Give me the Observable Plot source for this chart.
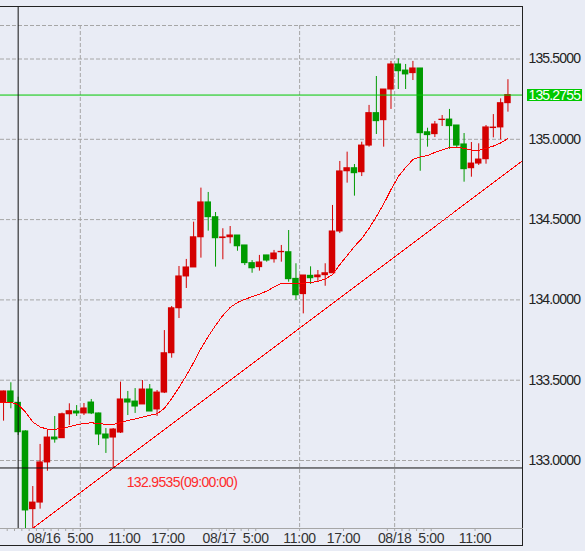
<!DOCTYPE html>
<html>
<head>
<meta charset="utf-8">
<script src="https://cdn.jsdelivr.net/npm/d3@7"></script>
<script src="https://cdn.jsdelivr.net/npm/@observablehq/plot@0.6"></script>
<style>
html, body { margin: 0; padding: 0; background: #e9ecf5; }
#chart svg { display: block; }
g[aria-label="y-axis tick label"] text { letter-spacing: -0.85px; }
g[aria-label="x-axis tick label"] text { letter-spacing: -0.3px; }
g[aria-label="text"] text { letter-spacing: -0.65px; }
</style>
</head>
<body>
<div id="chart"></div>
<script>
// hourly candles, hour index relative to 08/16 00:00
const hours = [-6,-5,-4,-3,-2,-1,0,1,2,3,4,5,6,7,8,9,10,11,12,13,14,15,16,17,18,19,20,21,22,23,24,25,26,27,28,29,30,31,32,33,34,35,36,37,38,39,40,41,42,43,44,45,46,47,48,49,50,51,52,53,54,55,56,57,58,59,60,61,62,63];
const opens = [133.363,133.430,133.359,133.181,132.697,132.738,132.988,133.143,133.139,133.288,133.305,133.293,133.361,133.293,133.162,133.143,133.174,133.380,133.367,133.349,133.442,133.318,133.423,133.668,133.948,134.146,134.202,134.390,134.607,134.515,134.385,134.390,134.401,134.339,134.229,134.204,134.277,134.253,134.297,134.297,134.131,134.036,134.150,134.141,134.154,134.166,134.426,134.801,134.820,134.795,134.961,135.163,135.119,135.310,135.466,135.428,135.412,135.441,135.044,135.032,135.120,135.123,135.086,134.968,134.820,134.849,134.876,135.070,135.074,135.225];
const highs = [133.432,133.484,133.394,133.185,132.838,133.100,133.187,133.274,133.295,133.353,133.342,133.355,133.380,133.295,133.199,133.199,133.488,133.430,133.448,133.498,133.473,133.436,133.809,133.959,134.208,134.252,134.484,134.696,134.669,134.544,134.443,134.457,134.401,134.339,134.245,134.277,134.277,134.308,134.339,134.432,134.225,134.152,134.206,134.183,134.225,134.588,134.862,134.920,134.843,134.982,135.211,135.391,135.310,135.485,135.501,135.466,135.485,135.441,135.069,135.111,135.148,135.186,135.086,135.036,134.980,134.972,135.086,135.154,135.252,135.371];
const lows = [133.245,133.322,133.156,132.55,132.55,132.697,132.933,133.108,133.139,133.218,133.274,133.280,133.286,133.093,133.044,132.9535,133.168,133.280,133.293,133.349,133.305,133.274,133.417,133.637,133.884,134.071,134.202,134.260,134.428,134.204,134.250,134.349,134.303,134.214,134.166,134.179,134.235,134.229,134.235,134.110,133.996,133.913,134.096,134.115,134.085,134.166,134.413,134.727,134.646,134.768,134.951,135.030,134.951,135.186,135.310,135.310,135.366,134.801,134.951,135.011,135.080,134.937,134.949,134.733,134.764,134.837,134.845,135.009,134.997,135.169];
const closes = [133.430,133.363,133.176,132.689,132.738,132.988,133.143,133.131,133.288,133.307,133.293,133.324,133.293,133.162,133.137,133.193,133.380,133.361,133.336,133.442,133.305,133.423,133.668,133.948,134.146,134.202,134.390,134.607,134.515,134.384,134.389,134.401,134.334,134.229,134.197,134.233,134.245,134.289,134.299,134.129,134.029,134.152,134.135,134.152,134.166,134.426,134.800,134.820,134.789,134.961,135.163,135.113,135.310,135.466,135.424,135.404,135.441,135.038,135.026,135.092,135.122,135.082,134.961,134.814,134.849,134.874,135.074,135.073,135.225,135.2755];

// moving average (red curve)
const maHours = [-7,-6,-5,-4,-3,-2,-1,0,1,2,3,4,5,6,7,8,9,10,11,12,13,14,15,16,17,18,19,20,21,22,23,24,25,26,27,28,29,30,31,32,33,34,35,36,37,38,39,40,41,42,43,44,45,46,47,48,49,50,51,52,53,54,55,56,57,58,59,60,61,62,63];
const maValues = [133.364,133.362,133.361,133.349,133.301,133.240,133.209,133.195,133.194,133.200,133.210,133.222,133.230,133.235,133.230,133.225,133.224,133.235,133.249,133.258,133.270,133.282,133.291,133.324,133.386,133.455,133.529,133.610,133.697,133.772,133.841,133.903,133.953,133.984,134.003,134.020,134.036,134.055,134.080,134.104,134.104,134.104,134.104,134.108,134.115,134.130,134.158,134.220,134.276,134.333,134.382,134.445,134.519,134.597,134.687,134.768,134.824,134.874,134.890,134.899,134.918,134.933,134.949,134.951,134.943,134.933,134.932,134.943,134.958,134.977,135.005];

// straight trend line (time in hours, price)
const trendTimes = [-1.6, 65.5];
const trendValues = [132.575, 134.866];

// axis / grid
const tickTimes = [0, 5, 11, 17, 24, 29, 35, 41, 48, 53, 59];
const tickLabels = ["08/16", "5:00", "11:00", "17:00", "08/17", "5:00", "11:00", "17:00", "08/18", "5:00", "11:00"];
const minorTicks = [-5,-4,-3,-2,-1,1,2,3,4,23,25,26,27,28,47,49,50,51,52];
const priceTicks = [133.0, 133.5, 134.0, 134.5, 135.0, 135.5];
const gridPrices = [133.0, 133.5, 134.0, 134.5, 135.0, 135.5, 135.7085];
const gridTimes = [5, 35, 48];
const gridTop = 135.7085;
const lastPrice = 135.2755;
const anchorTime = 9.5, anchorPrice = 132.9535, anchorLabel = "(09:00:00)";
const crossTime = -3.5;
const xDomain = [-5.917, 65.49];
const yDomain = [132.5766, 135.8269];

const RED = "#d40000", GREEN = "#009a00";
const candles = hours.map((h, i) => ({
  t1: h, t2: h + 1, mid: h + 0.5,
  open: opens[i], high: highs[i], low: lows[i], close: closes[i],
  color: closes[i] >= opens[i] ? RED : GREEN
}));
const ma = maHours.map((h, i) => ({t: h + 0.5, v: maValues[i]}));
const trend = trendTimes.map((t, i) => ({t, v: trendValues[i]}));

const grid = "#a6a6a6";
const chart = Plot.plot({
  width: 585, height: 551,
  marginLeft: 0, marginRight: 63, marginTop: 6, marginBottom: 23,
  x: {domain: xDomain, axis: null},
  y: {domain: yDomain, axis: null},
  color: {type: "identity"},
  style: {fontFamily: "'Liberation Sans', Arial, sans-serif", background: "#e9ecf5", color: "#222", overflow: "visible"},
  marks: [
    Plot.ruleY(gridPrices, {stroke: grid, strokeDasharray: "4,2"}),
    Plot.ruleX(gridTimes, {y1: gridTop, y2: yDomain[0], stroke: grid, strokeDasharray: "4,2"}),
    Plot.ruleX(candles, {x: "mid", y1: "low", y2: "high", stroke: "color", clip: true}),
    Plot.rect(candles, {x1: "t1", x2: "t2", y1: "open", y2: "close", fill: "color", insetLeft: 0.4, insetRight: 0.4, insetTop: -0.5, insetBottom: -0.5, clip: true}),
    Plot.line(ma, {x: "t", y: "v", stroke: "#ff0000", strokeWidth: 1, clip: true, shapeRendering: "crispEdges"}),
    Plot.line(trend, {x: "t", y: "v", stroke: "#ff0000", strokeWidth: 1, clip: true, shapeRendering: "crispEdges"}),
    Plot.ruleY([lastPrice], {stroke: "#00c800"}),
    Plot.ruleY([anchorPrice], {stroke: "#111"}),
    Plot.ruleX([crossTime], {stroke: "#111"}),
    Plot.text([{t: anchorTime, v: anchorPrice}], {x: "t", y: "v", text: d => d.v.toFixed(4) + anchorLabel, dx: 13.5, dy: 14.5, textAnchor: "start", fill: "#ff2a2a", fontSize: 14}),
    Plot.axisY(priceTicks, {anchor: "right", tickSize: 0, tickPadding: 6, tickFormat: d => d.toFixed(4), fontSize: 14, fill: "#222"}),
    Plot.axisY([lastPrice], {anchor: "right", tickSize: 55, tickPadding: -53, dx: 4, stroke: "#00c800", strokeWidth: 12, fill: "#ffffff", tickFormat: d => d.toFixed(4), fontSize: 14}),
    Plot.axisX(minorTicks, {anchor: "bottom", tickSize: 3, tickFormat: () => "", stroke: grid}),
    Plot.axisX(tickTimes, {anchor: "bottom", tickSize: 3, tickPadding: 2, tickFormat: d => tickLabels[tickTimes.indexOf(d)], fontSize: 14, stroke: grid, fill: "#333"}),
    Plot.frame({anchor: "top", stroke: "#222"}),
    Plot.frame({anchor: "right", stroke: "#222"}),
    Plot.frame({anchor: "right", stroke: "#222", dy: 17}),
    Plot.frame({anchor: "bottom", stroke: grid}),
    Plot.frame({anchor: "bottom", stroke: "#222", dy: 17})
  ]
});
document.getElementById("chart").appendChild(chart);
</script>
</body>
</html>
